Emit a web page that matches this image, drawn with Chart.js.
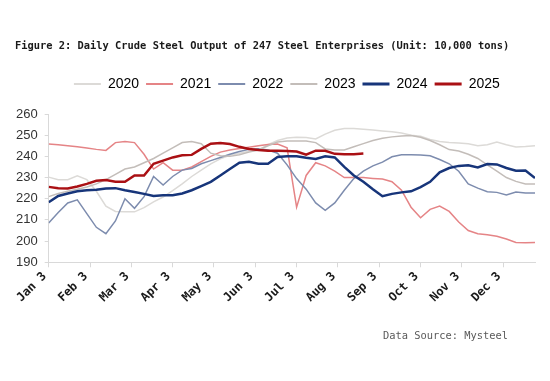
<!DOCTYPE html>
<html><head><meta charset="utf-8">
<script src="https://cdn.jsdelivr.net/npm/chart.js@4.4.1/dist/chart.umd.min.js"></script>
<style>html,body{margin:0;padding:0;background:#fff;}#wrap{position:relative;width:550px;height:381px;}</style>
</head><body><div id="wrap"><canvas id="c" width="550" height="381"></canvas></div>
<script>
const titleText = "Figure 2: Daily Crude Steel Output of 247 Steel Enterprises (Unit: 10,000 tons)";
const sourceText = "Data Source: Mysteel";
const monthLabels = ["Jan 3","Feb 3","Mar 3","Apr 3","May 3","Jun 3","Jul 3","Aug 3","Sep 3","Oct 3","Nov 3","Dec 3"];
const weeksPerYear = 52;
const yTicks = [190,200,210,220,230,240,250,260];
const seriesNames = ["2020","2021","2022","2023","2024","2025"];

const s2020 = [230.2,229,229,230.8,229,223.5,216.5,214,213.8,213.8,215.8,218.5,220.8,223.8,227,230.5,233.5,236.5,238.8,240.5,241.5,242.4,243,245.5,247.5,248.7,249,248.9,248.2,250.5,252.3,253.2,253.2,252.8,252.4,252,251.6,251,250,249.5,248,247,246.5,246.3,246,245,245.5,246.8,245.5,244.4,244.6,245];
const s2021 = [245.8,245.5,245,244.5,244,243.3,242.8,246.5,247,246.5,241,234,237,233.5,233.5,235,237.5,240,242,243,243.7,244.3,245,245.6,245.8,244,216,231,237,235.5,233,230,230,230,229.6,229.3,228,224,216,211,215,216.5,214,209,205,203.5,203,202.3,201,199.3,199.2,199.3];
const s2022 = [208.5,213.5,218,219.5,213,206.5,203.5,209.5,220,215.5,221,230.5,226.5,230.5,233.5,234.3,236.5,238,239.5,241,242.3,243.3,243.6,243,241.5,236,229.5,224.5,218,214.5,218,224,229.5,233,235.5,237.3,239.8,240.8,240.8,240.7,240.3,238.5,236.5,233,227,225,223.3,223,221.8,223.2,222.7,222.7];
const s2023 = [221,222.5,223.5,224.5,225.5,227,229,231.5,234,235,237,239,241.5,244,246.5,247,246,241.5,240.3,240,240.8,242,243,245,246.8,247.2,247.2,247.2,246.5,243.5,243,243,244.5,246,247.5,248.5,249.2,249.6,249.8,249,247.5,245.5,243.2,242.5,241,239,236,233,230,228.2,227,227];
const s2024 = [218.3,221.3,222.5,223.5,224,224.2,224.8,225,224,223.2,222.3,221.3,221.6,221.6,222.5,224,226,228,231,234,237,237.5,236.5,236.5,239.7,240,240,239.3,238.8,240,239.5,235,231,228,224.5,221.2,222.3,223,223.5,225.5,228,232.5,234.5,235.5,235.8,234.8,236.4,236.2,234.5,233.2,233.3,229.8];
const s2025 = [225.6,225,224.8,225.8,227,228.5,228.8,228,228,231,231,236.5,238,239.5,240.5,240.7,243.5,246,246.3,245.8,244.5,243.5,243,242.7,242.7,242.5,242.3,240.8,242.7,242.6,241.2,241,241,241.3];

const seriesValues = [s2020, s2021, s2022, s2023, s2024, s2025];
const seriesColors = ["#dcdad7", "#e58486", "#7d8cae", "#c3bdb9", "#17357a", "#aa1014"];
const seriesWidths = [1.5, 1.5, 1.5, 1.5, 2.5, 2.5];

const datasets = seriesNames.map((name, i) => ({
  label: name,
  data: seriesValues[i].map((v, w) => ({x: w, y: v})),
  borderColor: seriesColors[i],
  backgroundColor: seriesColors[i],
  borderWidth: seriesWidths[i],
  pointRadius: 0,
  tension: 0,
  fill: false,
  order: seriesNames.length - 1 - i
}));

const legendGap = {
  id: 'legendGap',
  beforeInit(chart) {
    const orig = chart.legend.fit;
    chart.legend.fit = function () { orig.call(this); this.height += 13; };
  },
  afterLayout(chart) {
    chart.legend.left -= 10;
  }
};

const textPlugin = {
  id: 'texts',
  afterDraw(chart) {
    const ctx = chart.ctx;
    ctx.save();
    ctx.textBaseline = 'alphabetic';
    ctx.textAlign = 'left';
    ctx.fillStyle = '#1a1a1a';
    ctx.font = 'bold 10.4px "DejaVu Sans Mono", monospace';
    ctx.fillText(titleText, 15, 49, 513);
    ctx.fillStyle = '#5a5a5a';
    ctx.font = '10.4px "DejaVu Sans Mono", monospace';
    ctx.fillText(sourceText, 383, 339, 127);
    ctx.restore();
  }
};

new Chart(document.getElementById('c'), {
  type: 'line',
  data: { datasets },
  plugins: [legendGap, textPlugin],
  options: {
    responsive: false,
    animation: false,
    layout: { padding: { top: 70, left: 9, right: 15, bottom: 74 } },
    plugins: {
      tooltip: { enabled: false },
      title: { display: false },
      legend: {
        display: true,
        position: 'top',
        fullSize: false,
        labels: {
          usePointStyle: true,
          pointStyle: 'line',
          pointStyleWidth: 27,
          padding: 7,
          color: '#1a1a1a',
          font: { family: '"Liberation Sans", Arial, sans-serif', size: 14 },
          generateLabels: (chart) => chart.data.datasets.map((ds, i) => ({
            text: ds.label,
            strokeStyle: ds.borderColor,
            fillStyle: ds.borderColor,
            lineWidth: ds.borderWidth + 0.5,
            pointStyle: 'line',
            datasetIndex: i,
            hidden: false
          }))
        }
      }
    },
    scales: {
      x: {
        type: 'linear',
        min: 0,
        max: weeksPerYear - 1,
        afterBuildTicks: (ax) => { ax.ticks = monthLabels.map((l, i) => ({ value: i * weeksPerYear / monthLabels.length })); },
        grid: { drawOnChartArea: false, color: '#d9d9d9', tickLength: 5 },
        border: { color: '#d9d9d9' },
        ticks: {
          autoSkip: false,
          maxRotation: 45,
          minRotation: 45,
          padding: 2,
          labelOffset: -4,
          color: '#1a1a1a',
          font: { family: '"DejaVu Sans Mono", monospace', size: 12, weight: 'bold' },
          callback: (v, i) => monthLabels[i]
        }
      },
      y: {
        min: 190,
        max: 260,
        afterBuildTicks: (ax) => { ax.ticks = yTicks.map(v => ({ value: v })); },
        grid: { drawOnChartArea: false, color: '#d9d9d9', tickLength: 4 },
        border: { color: '#d9d9d9' },
        ticks: {
          padding: 7,
          color: '#333333',
          font: { family: '"Liberation Sans", Arial, sans-serif', size: 13 }
        }
      }
    }
  }
});
</script></body></html>
